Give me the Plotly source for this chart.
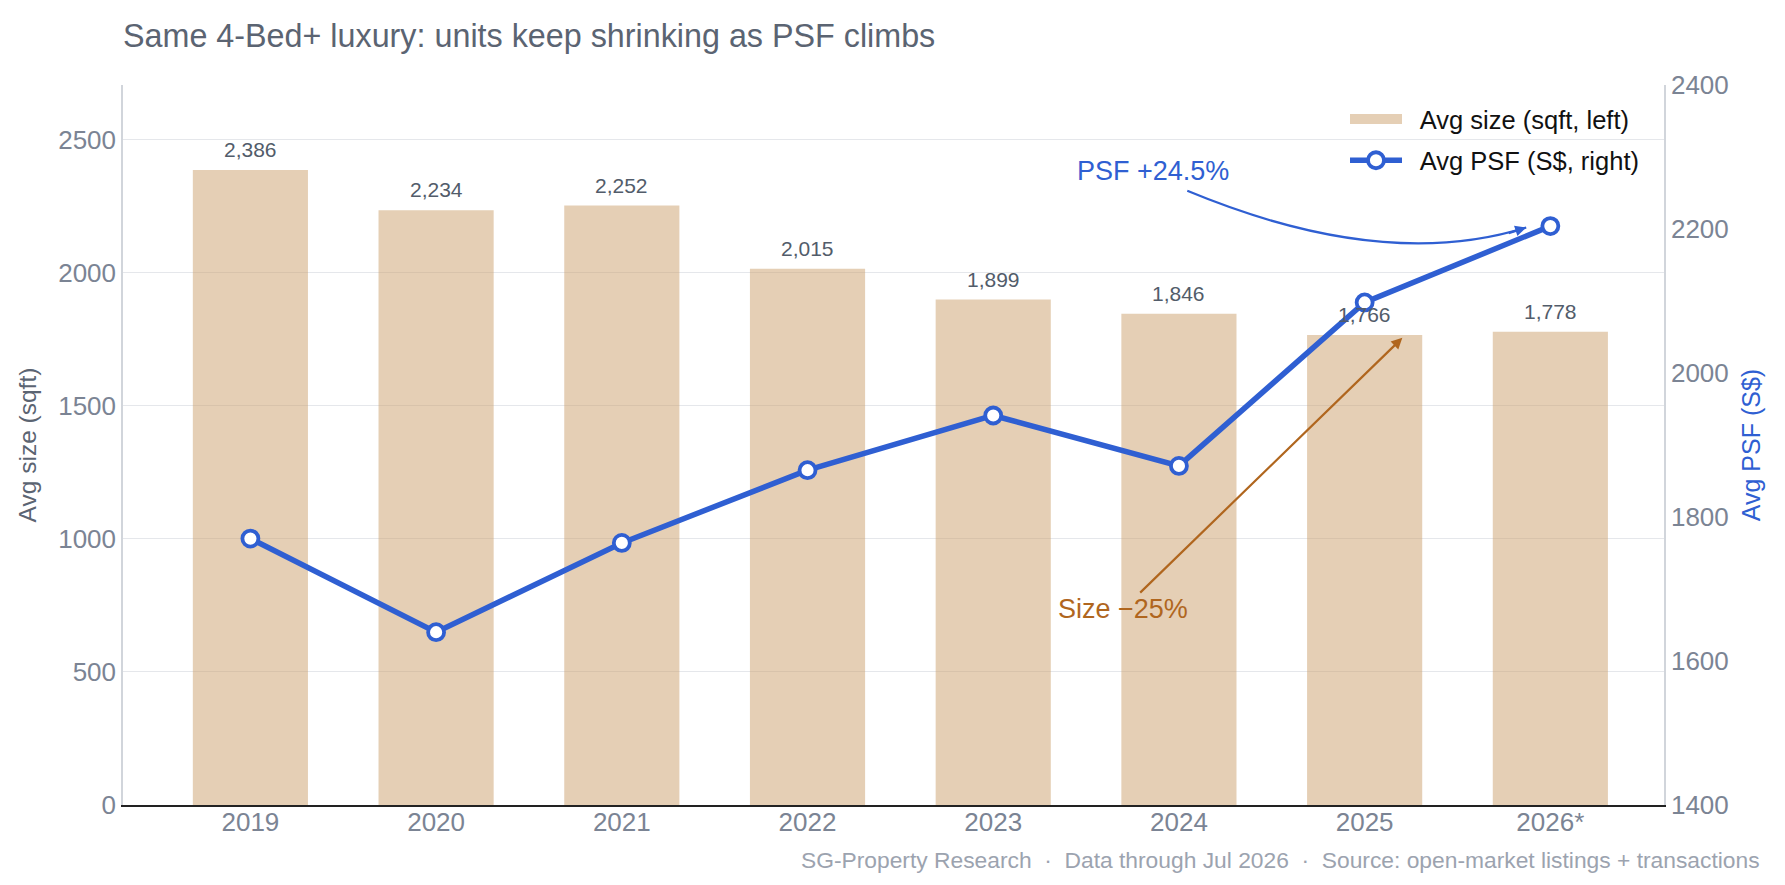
import plotly.graph_objects as go

years = ["2019", "2020", "2021", "2022", "2023", "2024", "2025", "2026*"]
avg_size = [2386, 2234, 2252, 2015, 1899, 1846, 1766, 1778]
avg_psf = [1770, 1640, 1764, 1865, 1941, 1871, 2098, 2204]

xi = list(range(len(years)))
FONT = "Liberation Sans, Arial, sans-serif"
BLUE = "#2f5fd2"
BROWN = "#b0661e"
BAR = "rgba(203,159,107,0.5)"

fig = go.Figure()
fig.add_trace(go.Bar(
    x=xi, y=avg_size, name="Avg size (sqft, left)", showlegend=False,
    marker=dict(color=BAR, line=dict(width=0)),
    width=0.62, yaxis="y",
))
# value labels above bars
for i, v in zip(xi, avg_size):
    fig.add_annotation(x=i, y=v, xref="x", yref="y", yanchor="bottom",
                       yshift=7, showarrow=False, text=f"{v:,}",
                       font=dict(color="#525c6a", size=21, family=FONT))
# legend proxy for the bars (wide swatch)
fig.add_trace(go.Scatter(
    x=[None], y=[None], name="  Avg size (sqft, left)", mode="lines",
    line=dict(color="#e5cfb5", width=18), yaxis="y", legendgroup="a",
))
fig.add_trace(go.Scatter(
    x=xi, y=avg_psf, name="  Avg PSF (S$, right)", mode="lines+markers",
    line=dict(color=BLUE, width=5.5),
    marker=dict(size=16, color="white", line=dict(color=BLUE, width=3.8)),
    yaxis="y2", cliponaxis=False, legendgroup="b",
))

# curved arrow for PSF change (quadratic bezier in data coords of x / y2)
p0 = (5.045, 2253)
c = (6.1, 2140)
p2 = (6.87, avg_psf[-1] - 2)
fig.add_shape(type="path", xref="x", yref="y2",
              path=f"M {p0[0]},{p0[1]} Q {c[0]},{c[1]} {p2[0]},{p2[1]}",
              line=dict(color=BLUE, width=2.2))
fig.add_annotation(x=p2[0], y=p2[1], xref="x", yref="y2", ax=-19, ay=6,
                   showarrow=True, arrowhead=2, arrowsize=1, arrowwidth=2.2,
                   arrowcolor=BLUE, text="")
psf_change = (avg_psf[-1] / avg_psf[0] - 1) * 100
fig.add_annotation(x=4.86, y=2281, xref="x", yref="y2", showarrow=False,
                   text=f"PSF +{psf_change:.1f}%",
                   font=dict(color=BLUE, size=27, family=FONT))

size_change = (avg_size[-1] / avg_size[0] - 1) * 100
fig.add_annotation(x=6.203, y=1755, xref="x", yref="y", ax=4.70, ay=736,
                   axref="x", ayref="y", showarrow=True, arrowhead=2,
                   arrowsize=1, arrowwidth=2.2, arrowcolor=BROWN,
                   text=f"Size \u2212{abs(round(size_change))}%",
                   font=dict(color=BROWN, size=27, family=FONT))

fig.add_annotation(x=(1762 - 123) / 1541, y=-(860 - 805) / 720, xref="paper", yref="paper",
                   xanchor="right", yanchor="middle", showarrow=False,
                   text="SG-Property Research  \u00b7  Data through Jul 2026  \u00b7  Source: open-market listings + transactions",
                   font=dict(color="#9ca3af", size=22.8, family=FONT))

fig.update_layout(
    width=1785, height=885,
    margin=dict(l=123, r=121, t=85, b=80),
    paper_bgcolor="white", plot_bgcolor="white",
    font=dict(family=FONT),
    title=dict(text="Same 4-Bed+ luxury: units keep shrinking as PSF climbs",
               x=123 / 1785, xanchor="left", y=1 - 36 / 885, yanchor="middle",
               font=dict(size=32.3, color="#5b6472", family=FONT)),
    showlegend=True,
    legend=dict(x=1 - 20 / 1541, xanchor="right", y=1 - 11 / 720, yanchor="top",
                bgcolor="rgba(0,0,0,0)", font=dict(size=25.5, color="#111"),
                itemwidth=52, tracegroupgap=5),
    xaxis=dict(tickmode="array", tickvals=xi, ticktext=years,
               range=[-0.686, 7.612], showgrid=False,
               showline=True, linecolor="#222", linewidth=1.5,
               tickfont=dict(size=26, color="#7b8494"), ticks="",
               ticklabelstandoff=-7),
    yaxis=dict(range=[0, 2705], dtick=500, showgrid=True, gridcolor="#e5e7eb",
               gridwidth=1, zeroline=False, showline=True, linecolor="#d1d5db",
               linewidth=1.5,
               tickfont=dict(size=26, color="#7b8494"),
               title=dict(text="Avg size (sqft)", font=dict(size=24.5, color="#5b6472"))),
    yaxis2=dict(range=[1400, 2400], dtick=200, overlaying="y", side="right",
                showgrid=False, zeroline=False, showline=True,
                linecolor="#d1d5db", linewidth=1.5,
                tickfont=dict(size=26, color="#7b8494"),
                title=dict(text="Avg PSF (S$)", font=dict(size=25, color=BLUE))),
)

fig.write_html("out.html")
